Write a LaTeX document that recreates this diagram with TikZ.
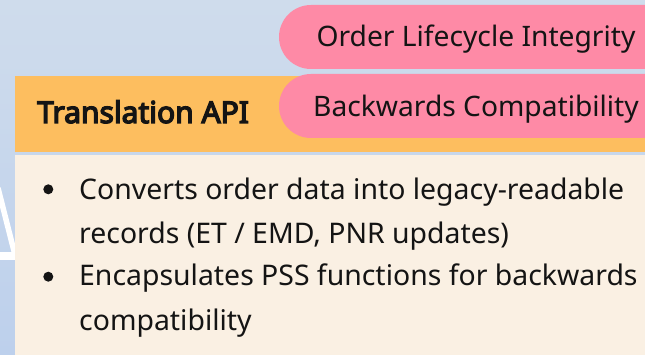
\documentclass[tikz,border=0pt]{standalone}
\usepackage{fontspec}
\setmainfont{Noto Sans}
\newfontfamily\titlefont{Noto Sans}[FakeBold=4.5]
\definecolor{bgtop}{HTML}{CFDCEC}
\definecolor{bgbot}{HTML}{BDD0EC}
\definecolor{headorange}{HTML}{FDBE5F}
\definecolor{pillpink}{HTML}{FE8AA6}
\definecolor{bodybeige}{HTML}{FAF0E3}
\definecolor{inkblack}{HTML}{141414}
\tikzset{
  pill/.style={fill=pillpink, rounded corners=32pt},
  pilltext/.style={inner sep=0pt, anchor=base, text=inkblack, font=\fontsize{28.2}{30}\selectfont},
  bodytext/.style={inner sep=0pt, anchor=base west, align=left, text=inkblack, font=\fontsize{28.4}{44}\selectfont},
  bulletdot/.style={circle, fill=inkblack, inner sep=0pt, minimum size=10pt},
}
\begin{document}
\begin{tikzpicture}[x=1pt,y=-1pt]
\useasboundingbox (0,0) rectangle (645,355);
\clip (0,0) rectangle (645,355);
% background
\shade[top color=bgtop, bottom color=bgbot] (0,0) rectangle (645,355);
% white decorative letter fragment
\draw[white, line width=5.5pt] (-2,188) -- (15,255);
\draw[white, line width=8pt] (-2,256) -- (18,256);
% header bar
\fill[headorange] (15,76) rectangle (645,152);
\node[inner sep=0pt, anchor=base west, text=inkblack, font=\titlefont\fontsize{30}{32}\selectfont] (title) at (37,123) {Translation API};
% body
\fill[bodybeige] (15,155) rectangle (645,355);
% pills
\fill[pill] (279,5) rectangle (720,69);
\fill[pill] (279,74) rectangle (720,138);
\node[pilltext] (pillA) at (476,47) {Order Lifecycle Integrity};
\node[pilltext] (pillB) at (476,117) {Backwards Compatibility};
% bullets
\node[bulletdot] (b1) at (48.3,189.3) {};
\node[bulletdot] (b2) at (48.3,276.7) {};
\node[bodytext] (t1) at (79,243.3) {Converts order data into legacy-readable\\records (ET / EMD, PNR updates)};
\node[bodytext] (t2) at (79,330) {Encapsulates PSS functions for backwards\\compatibility};
\end{tikzpicture}
\end{document}
